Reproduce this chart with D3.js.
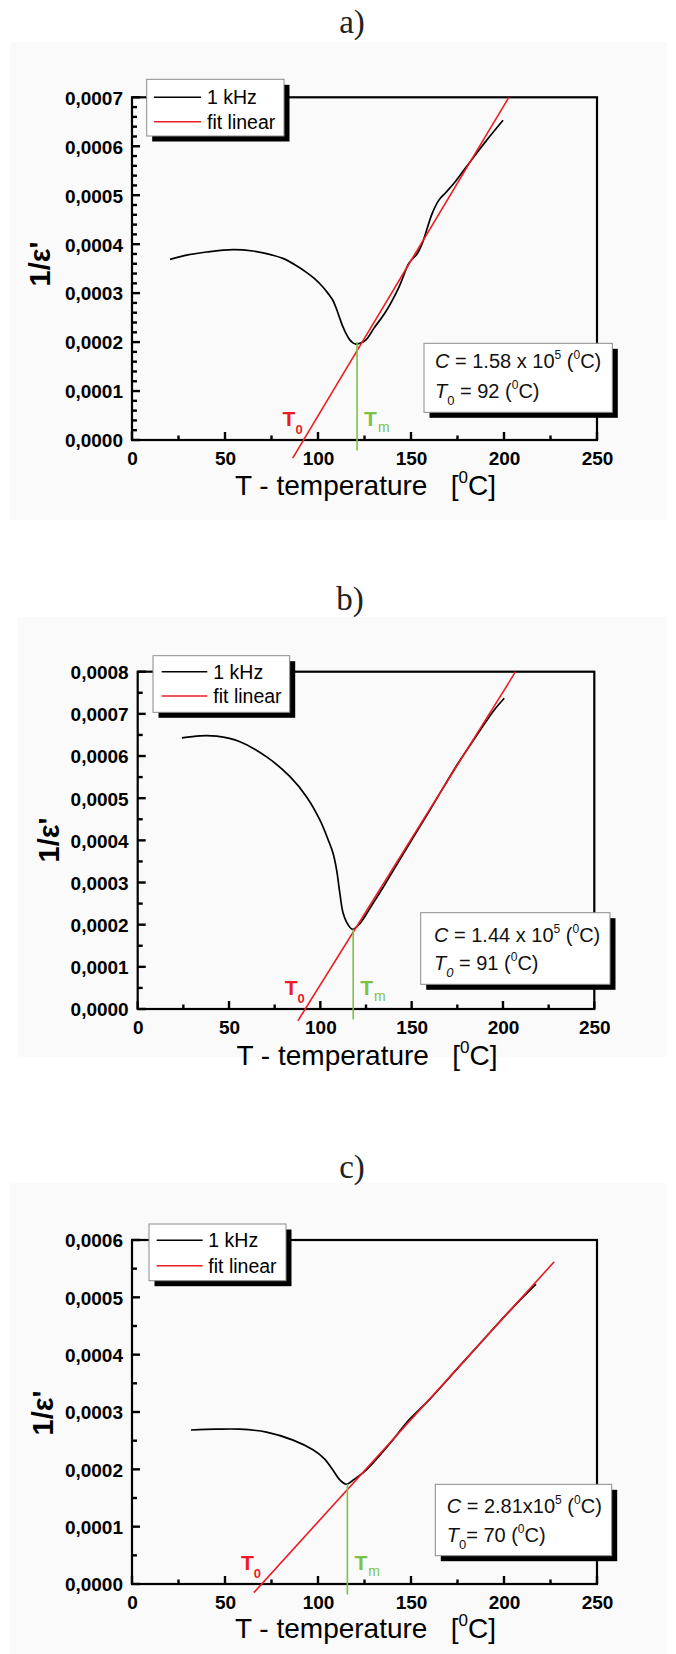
<!DOCTYPE html>
<html><head><meta charset="utf-8">
<script src="https://cdn.jsdelivr.net/npm/d3@7"></script>
<style>
body{margin:0;background:#fff}
svg{display:block}
text{font-family:"Liberation Sans",Arial,Helvetica,sans-serif}
</style>
</head><body>
<svg id="chart" width="676" height="1654"></svg>
<script>
// ---------------- data ----------------
const panelLabels = ["a)", "b)", "c)"];
const xTickValues = [0, 50, 100, 150, 200, 250];
const xMinorValues = [25, 75, 125, 175, 225];
const aYTicks = [0, 0.0001, 0.0002, 0.0003, 0.0004, 0.0005, 0.0006, 0.0007];
const bYTicks = [0, 0.0001, 0.0002, 0.0003, 0.0004, 0.0005, 0.0006, 0.0007, 0.0008];
const cYTicks = [0, 0.0001, 0.0002, 0.0003, 0.0004, 0.0005, 0.0006];
const legendLabels = ["1 kHz", "fit linear"];

// panel a: 1 kHz inverse permittivity
const aTemp = [20.4, 30, 40, 54.3, 65, 75, 81.1, 88, 93.6, 98, 102.5, 105.5, 107.9, 109.8, 111.4, 113.2, 115, 117, 118.6, 120.3, 122.1, 125.7, 130, 136.4, 143.6, 148.9, 153.4, 156.1, 161.4, 165, 168.6, 173.9, 181.1, 190, 199.5];
const aInv  = [3.69, 3.78, 3.84, 3.89, 3.86, 3.78, 3.71, 3.57, 3.43, 3.30, 3.13, 2.99, 2.86, 2.69, 2.52, 2.33, 2.18, 2.05, 1.99, 1.96, 1.97, 2.04, 2.28, 2.62, 3.13, 3.61, 3.81, 4.02, 4.63, 4.90, 5.05, 5.28, 5.65, 6.09, 6.53].map(v => v * 1e-4);
// panel b
const bTemp = [24.2, 34.1, 43.2, 56, 70.6, 83.4, 92.5, 99.8, 104.4, 107, 108.9, 110.7, 112.5, 115.3, 117.7, 121.7, 128, 135, 145, 160, 175, 185, 195, 200.7];
const bInv  = [6.43, 6.48, 6.47, 6.34, 5.98, 5.51, 5.03, 4.48, 4.00, 3.69, 3.30, 2.74, 2.27, 1.99, 1.89, 2.03, 2.45, 2.93, 3.65, 4.72, 5.80, 6.45, 7.08, 7.37].map(v => v * 1e-4);
// panel c
const cTemp = [31.7, 45.4, 58, 72.3, 86.6, 97.3, 103.2, 108, 111.6, 115.2, 118.8, 126, 140.2, 148, 160, 175, 190, 205, 217.2];
const cInv  = [2.686, 2.70, 2.70, 2.65, 2.51, 2.34, 2.19, 1.99, 1.82, 1.74, 1.81, 1.99, 2.51, 2.83, 3.22, 3.76, 4.30, 4.83, 5.23].map(v => v * 1e-4);

// linear fits (end points)
const aFitTemp = [86.4, 202.6], aFitInv = [-0.000037, 0.0007];
const bFitTemp = [87.7, 206.9], bFitInv = [-0.000028, 0.0008];
const cFitTemp = [65.5, 227.0], cFitInv = [-0.000015, 0.000562];

// Tm (minimum) and T0 (intercept)
const tmTemp = [121, 118, 115.8];
const tmInv  = [0.0002, 0.000189, 0.0001744];
const t0Temp = [92, 91.7, 69.6];

// annotation values
const curieConst = ["1.58 x 10", "1.44 x 10", "2.81x10"];
const curieExp = ["5", "5", "5"];
const t0Text = [" = 92 (", " = 91 (", "= 70 ("];

// ---------------- layout ----------------
const layouts = [
  { bg:[10,42,657,478], left:132, right:597, top:97.3, bottom:440, yMax:0.0007, yTicks:aYTicks, minorStep:0.00002,
    titleX:352, titleY:33, ylabX:40, ylabY:264, xlabY:495,
    leg:[146.7,79.3,137.3,56.7], legLineX:[154,201], legY:[97.3,121.7], legTextX:207,
    ann:[424,343.3,188.3,69], annX:435, annY:[368.3,398.3], subItalic:false },
  { bg:[18,617,649,440], left:137.7, right:594.3, top:671.7, bottom:1009, yMax:0.0008, yTicks:bYTicks, minorStep:0.00005,
    titleX:350, titleY:610, ylabX:49, ylabY:840, xlabY:1065,
    leg:[153,655.7,136.7,56.6], legLineX:[161.7,207.3], legY:[671.7,696], legTextX:213.3,
    ann:[420.7,912.7,189.3,71.6], annX:434, annY:[941.7,970], subItalic:true },
  { bg:[10,1183,657,471], left:132, right:597, top:1240, bottom:1584, yMax:0.0006, yTicks:cYTicks, minorStep:0.00005,
    titleX:352, titleY:1178, ylabX:43, ylabY:1413, xlabY:1638,
    leg:[149,1224,137,56.7], legLineX:[156.7,202.7], legY:[1240.3,1265.7], legTextX:208.3,
    ann:[435.3,1484.3,176.4,71.4], annX:446.7, annY:[1513.3,1541.7], subItalic:false }
];
const temps = [aTemp, bTemp, cTemp];
const invs = [aInv, bInv, cInv];
const fitT = [aFitTemp, bFitTemp, cFitTemp];
const fitV = [aFitInv, bFitInv, cFitInv];

const RED = "#ec1c24", GREEN = "#7cc242";
const svg = d3.select("#chart");
const fmtY = v => d3.format(".4f")(v).replace(".", ",");

layouts.forEach((L, i) => {
  const g = svg.append("g");
  g.append("rect").attr("x", L.bg[0]).attr("y", L.bg[1]).attr("width", L.bg[2]).attr("height", L.bg[3]).attr("fill", "#fafafa");

  const x = d3.scaleLinear().domain([0, 250]).range([L.left, L.right]);
  const y = d3.scaleLinear().domain([0, L.yMax]).range([L.bottom, L.top]);

  // title
  g.append("text").attr("x", L.titleX).attr("y", L.titleY).attr("text-anchor", "middle")
    .style("font-family", "'Liberation Serif','Times New Roman',serif").style("font-size", "33px").attr("fill", "#222")
    .text(panelLabels[i]);

  // tick labels via d3 axes
  const xAx = g.append("g").attr("transform", `translate(0,${L.bottom})`)
    .call(d3.axisBottom(x).tickValues(xTickValues).tickSize(0).tickPadding(12).tickFormat(d3.format("d")));
  const yAx = g.append("g").attr("transform", `translate(${L.left},0)`)
    .call(d3.axisLeft(y).tickValues(L.yTicks).tickSize(0).tickPadding(9).tickFormat(fmtY));
  [xAx, yAx].forEach(a => {
    a.select(".domain").remove();
    a.selectAll(".tick line").remove();
    a.selectAll(".tick text").attr("fill", "#000").style("font-size", "19px").style("font-weight", "bold")
      .style("font-family", "'Liberation Sans',Arial,sans-serif");
  });
  xAx.selectAll(".tick text").attr("dy", "0.71em");
  yAx.selectAll(".tick text").attr("dy", "0.36em");

  // inward tick marks
  const tk = g.append("g").attr("stroke", "#000").attr("stroke-width", 2.4);
  tk.selectAll("line.xmaj").data(xTickValues).join("line").attr("class", "xmaj")
    .attr("x1", d => x(d)).attr("x2", d => x(d)).attr("y1", L.bottom).attr("y2", L.bottom - 8);
  tk.selectAll("line.xmin").data(xMinorValues).join("line").attr("class", "xmin")
    .attr("x1", d => x(d)).attr("x2", d => x(d)).attr("y1", L.bottom).attr("y2", L.bottom - 4.5);
  tk.selectAll("line.ymaj").data(L.yTicks).join("line").attr("class", "ymaj")
    .attr("x1", L.left).attr("x2", L.left + 8).attr("y1", d => y(d)).attr("y2", d => y(d));
  const minorVals = d3.range(0, L.yMax + 1e-9, L.minorStep).filter(v => L.yTicks.every(t => Math.abs(t - v) > 1e-9));
  tk.selectAll("line.ymin").data(minorVals).join("line").attr("class", "ymin")
    .attr("x1", L.left).attr("x2", L.left + 5).attr("y1", d => y(d)).attr("y2", d => y(d));

  // frame
  g.append("rect").attr("x", L.left).attr("y", L.top).attr("width", L.right - L.left).attr("height", L.bottom - L.top)
    .attr("fill", "none").attr("stroke", "#000").attr("stroke-width", 2.2);

  // axis titles
  g.append("text").attr("transform", `translate(${L.ylabX},${L.ylabY}) rotate(-90)`)
    .attr("text-anchor", "middle").attr("dy", "0.36em").style("font-size", "29px").style("font-weight", "bold").text("1/ε'");
  const xl = g.append("text").attr("x", (L.left + L.right) / 2 + 1).attr("y", L.xlabY).attr("text-anchor", "middle")
    .style("font-size", "28px").style("white-space", "pre").attr("fill", "#000");
  xl.append("tspan").text("T - temperature   [");
  xl.append("tspan").attr("dy", -12).style("font-size", "17px").text("0");
  xl.append("tspan").attr("dy", 12).text("C]");

  // data line
  const line = d3.line().x(d => x(d[0])).y(d => y(d[1])).curve(d3.curveCatmullRom.alpha(0.5));
  const pts = temps[i].map((t, k) => [t, invs[i][k]]);
  g.append("path").datum(pts).attr("d", line).attr("fill", "none").attr("stroke", "#000").attr("stroke-width", 1.7);

  // fit line
  const fpts = fitT[i].map((t, k) => [t, fitV[i][k]]);
  g.append("path").datum(fpts).attr("d", d3.line().x(d => x(d[0])).y(d => y(d[1])))
    .attr("fill", "none").attr("stroke", RED).attr("stroke-width", 1.6);

  // Tm vertical line
  g.append("line").attr("x1", x(tmTemp[i])).attr("x2", x(tmTemp[i])).attr("y1", y(tmInv[i])).attr("y2", y(0) + 10.5)
    .attr("stroke", GREEN).attr("stroke-width", 1.6);

  // T0 / Tm labels
  const t0l = g.append("text").attr("x", x(t0Temp[i]) - 20.5).attr("y", L.bottom - 14).attr("fill", RED)
    .style("font-size", "21px").style("font-weight", "bold");
  t0l.append("tspan").text("T");
  t0l.append("tspan").attr("dy", 8).style("font-size", "13px").text("0");
  const tml = g.append("text").attr("x", x(tmTemp[i]) + 7).attr("y", L.bottom - 14).attr("fill", GREEN)
    .style("font-size", "21px").style("font-weight", "bold");
  tml.append("tspan").text("T");
  tml.append("tspan").attr("dx", 1).attr("dy", 6).style("font-size", "14px").style("font-weight", "normal").text("m");

  // legend
  const lg = g.append("g");
  lg.append("rect").attr("x", L.leg[0] + 5.5).attr("y", L.leg[1] + 5.5).attr("width", L.leg[2]).attr("height", L.leg[3]).attr("fill", "#000");
  lg.append("rect").attr("x", L.leg[0]).attr("y", L.leg[1]).attr("width", L.leg[2]).attr("height", L.leg[3])
    .attr("fill", "#fff").attr("stroke", "#8a8a8a").attr("stroke-width", 1);
  legendLabels.forEach((lab, k) => {
    lg.append("line").attr("x1", L.legLineX[0]).attr("x2", L.legLineX[1]).attr("y1", L.legY[k]).attr("y2", L.legY[k])
      .attr("stroke", k === 0 ? "#000" : RED).attr("stroke-width", 1.6);
    lg.append("text").attr("x", L.legTextX).attr("y", L.legY[k] + 6.8).style("font-size", "19.5px").attr("fill", "#000").text(lab);
  });

  // annotation box
  const ag = g.append("g");
  ag.append("rect").attr("x", L.ann[0] + 5.5).attr("y", L.ann[1] + 5.5).attr("width", L.ann[2]).attr("height", L.ann[3]).attr("fill", "#000");
  ag.append("rect").attr("x", L.ann[0]).attr("y", L.ann[1]).attr("width", L.ann[2]).attr("height", L.ann[3])
    .attr("fill", "#fff").attr("stroke", "#8a8a8a").attr("stroke-width", 1);
  const t1 = ag.append("text").attr("x", L.annX).attr("y", L.annY[0]).style("font-size", "20px").style("white-space", "pre").attr("fill", "#111");
  t1.append("tspan").style("font-style", "italic").text("C");
  t1.append("tspan").text(" = " + curieConst[i]);
  t1.append("tspan").attr("dy", -9).style("font-size", "12px").text(curieExp[i]);
  t1.append("tspan").attr("dy", 9).text(" (");
  t1.append("tspan").attr("dy", -9).style("font-size", "12px").text("0");
  t1.append("tspan").attr("dy", 9).text("C)");
  const t2 = ag.append("text").attr("x", L.annX).attr("y", L.annY[1]).style("font-size", "20px").style("white-space", "pre").attr("fill", "#111");
  t2.append("tspan").style("font-style", "italic").text("T");
  t2.append("tspan").attr("dy", 7).style("font-size", "13px").style("font-style", L.subItalic ? "italic" : "normal").text("0");
  t2.append("tspan").attr("dy", -7).text(t0Text[i]);
  t2.append("tspan").attr("dy", -9).style("font-size", "12px").text("0");
  t2.append("tspan").attr("dy", 9).text("C)");
});
</script>
</body></html>
